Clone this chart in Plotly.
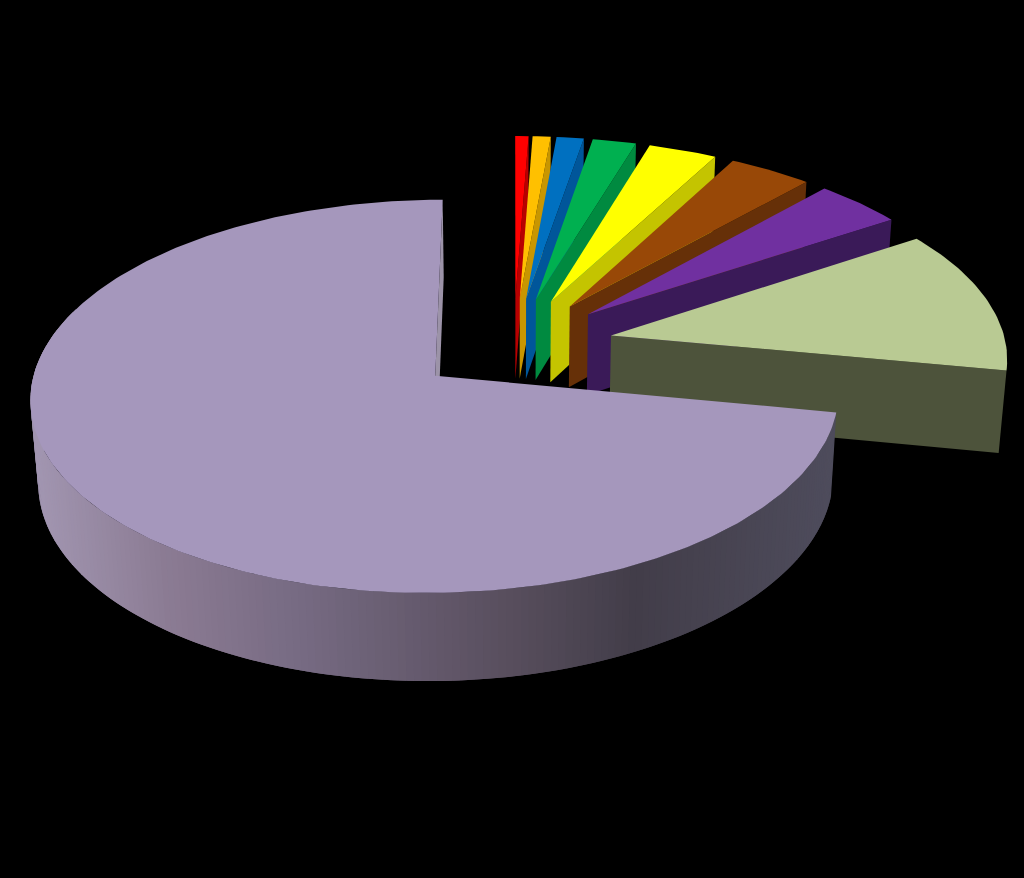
import math
import plotly.graph_objects as go

# ---- data ----
categories = ["Slice 1", "Slice 2", "Slice 3", "Slice 4", "Slice 5", "Slice 6", "Slice 7", "Slice 8", "Slice 9"]
values = [0.61, 0.83, 1.25, 2.0, 3.14, 3.83, 4.08, 12.22, 72.04]
top_colors = ["#FF0000", "#FFC000", "#0070C0", "#00B050", "#FFFF00", "#984807", "#7030A0", "#B9CA93", "#A597BC"]
wall_colors = ["#B80000", "#C89600", "#00569A", "#008A40", "#C4C400", "#663008", "#3A1A58", "#4D533B", "#8E8399"]
shade_stops = [(0.0, "#A195B0"), (0.16, "#8B7B93"), (0.33, "#766A82"), (0.6, "#574D5C"), (0.75, "#423D49"), (1.0, "#4E4C5C")]

# ---- view ----
START = 0.0
EXPLODE_X = 0.253
EXPLODE_Y = 0.2535
CX, CY = 513.5, 344.8
A, B = 395.0, 188.0
K = 0.103
DEPTH = 83.0
M = 0.016
WALL_LEFT, WALL_RIGHT = 37.0, 835.0


def proj(x, y, z=0.0):
    w = 1 + K * y + M * z
    return CX + A * x / w, CY - B * y / w + DEPTH * z / w


def hexrgb(c):
    return tuple(int(c[i:i + 2], 16) for i in (1, 3, 5))


def shade(t):
    t = min(max(t, 0.0), 1.0)
    for (t0, c0), (t1, c1) in zip(shade_stops, shade_stops[1:]):
        if t <= t1:
            f = (t - t0) / (t1 - t0)
            a, b = hexrgb(c0), hexrgb(c1)
            return "rgb(%d,%d,%d)" % tuple(round(p + (q - p) * f) for p, q in zip(a, b))
    return shade_stops[-1][1]


fig = go.Figure()


def poly(points, color, name):
    fig.add_trace(go.Scatter(
        x=[p[0] for p in points] + [points[0][0]],
        y=[p[1] for p in points] + [points[0][1]],
        mode="lines", fill="toself", fillcolor=color,
        line=dict(color=color, width=0),
        hoverinfo="skip", showlegend=False, name=name))


total = sum(values)
angle = START
for name, v, top, wall in zip(categories, values, top_colors, wall_colors):
    sweep = v / total * 360
    a0, a1 = angle, angle + sweep
    angle = a1
    mid = math.radians((a0 + a1) / 2)
    ox, oy = EXPLODE_X * math.sin(mid), EXPLODE_Y * math.cos(mid)
    steps = max(4, int(sweep))
    rim = [(ox + math.sin(math.radians(a0 + sweep * i / steps)),
            oy + math.cos(math.radians(a0 + sweep * i / steps))) for i in range(steps + 1)]

    if sweep > 180:
        poly([proj(ox, oy), proj(*rim[-1]), proj(*rim[-1], 1), proj(ox, oy, 1)], "#9C93A8", name)
        # outer rim: overlapping strips, shaded by screen position
        for i in range(steps - 1):
            deg = a0 + sweep * (i + 0.5) / steps
            if not (88 <= deg <= 290):
                continue
            p0, p1 = rim[i], rim[i + 2]
            q = [proj(*p0), proj(*p1), proj(*p1, 1), proj(*p0, 1)]
            xm = (proj(*rim[i])[0] + proj(*rim[i + 1])[0]) / 2
            poly(q, shade((xm - WALL_LEFT) / (WALL_RIGHT - WALL_LEFT)), name)
    else:
        poly([proj(ox, oy), proj(*rim[-1]), proj(*rim[-1], 1), proj(ox, oy, 1)], wall, name)

    poly([proj(ox, oy)] + [proj(*p) for p in rim], top, name)

fig.update_layout(
    width=1024, height=878, margin=dict(l=0, r=0, t=0, b=0),
    paper_bgcolor="#000000", plot_bgcolor="#000000",
    xaxis=dict(range=[0, 1024], visible=False, fixedrange=True),
    yaxis=dict(range=[878, 0], visible=False, fixedrange=True),
    showlegend=False)
fig.write_html("out.html", config={"displayModeBar": False},
               post_script="document.body.style.margin='0';document.body.style.background='#000';document.body.style.overflow='hidden';")
